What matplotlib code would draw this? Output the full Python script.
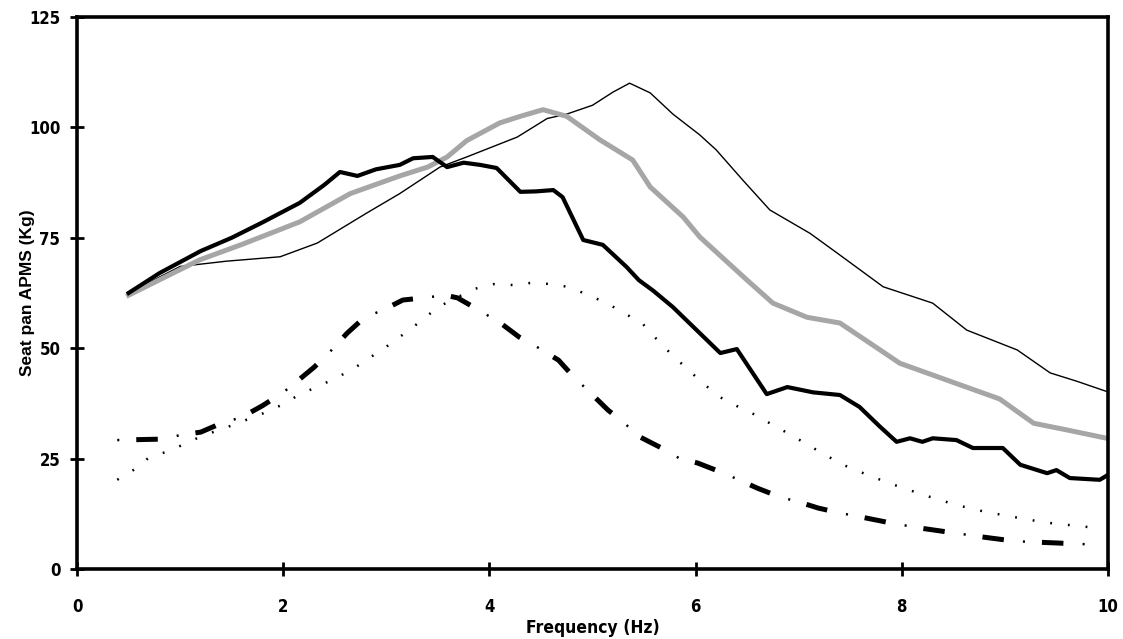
import matplotlib
matplotlib.use("Agg")
import matplotlib.pyplot as plt
from matplotlib import font_manager
from matplotlib.font_manager import FontProperties

plt.rcParams['lines.scale_dashes'] = False

# pick a bold condensed/narrow sans face if one is installed
def pick_narrow_bold():
    best = None
    for f in font_manager.fontManager.ttflist:
        nm = f.name.lower()
        path = f.fname.lower()
        narrowish = ('narrow' in nm or 'condensed' in nm or 'narrow' in path or 'condensed' in path
                     or str(f.stretch) in ('condensed', 'semi-condensed', 'extra-condensed'))
        if not narrowish:
            continue
        w = f.weight if isinstance(f.weight, int) else 700 if 'bold' in str(f.weight) else 400
        boldish = (w >= 600) or ('bold' in path)
        if not boldish or 'italic' in path or 'oblique' in path:
            continue
        if 'liberation' in nm: score = 3
        elif 'dejavu' in nm: score = 2
        else: score = 1
        if best is None or score > best[0]:
            best = (score, f.fname)
    return best[1] if best else None

narrow_path = pick_narrow_bold()
if narrow_path:
    tick_fp = FontProperties(fname=narrow_path, size=12)
    xlab_fp = FontProperties(fname=narrow_path, size=12.5)
else:
    tick_fp = FontProperties(family='Liberation Sans', weight='bold', size=12)
    xlab_fp = FontProperties(family='Liberation Sans', weight='bold', size=12.5)
ylab_fp = FontProperties(family='Liberation Sans', weight='bold', size=12.5)

# ---- data ----
thick_x = [0.5, 0.8, 1.0, 1.2, 1.5, 1.8, 2.16, 2.4, 2.55, 2.72, 2.9, 3.13, 3.26, 3.45, 3.59, 3.75,
           3.91, 4.07, 4.3, 4.45, 4.62, 4.71, 4.91, 5.10, 5.33, 5.45, 5.59, 5.78, 6.01, 6.24, 6.4,
           6.69, 6.89, 7.14, 7.4, 7.59, 7.79, 7.95, 8.08, 8.2, 8.3, 8.53, 8.69, 8.98, 9.15, 9.41,
           9.5, 9.63, 9.92, 10.0]
thick_y = [62.5, 67, 69.5, 72, 75, 78.5, 82.9, 87, 89.9, 89, 90.5, 91.5, 93, 93.3, 91, 92,
           91.5, 90.8, 85.4, 85.5, 85.8, 84.2, 74.5, 73.4, 68.4, 65.4, 63, 59.3, 54.1, 48.9, 49.8,
           39.6, 41.2, 40, 39.4, 36.7, 32.2, 28.8, 29.6, 28.8, 29.6, 29.2, 27.4, 27.4, 23.6, 21.7,
           22.4, 20.6, 20.2, 21.3]

gray_x = [0.5, 1.19, 1.6, 2.16, 2.65, 3.13, 3.4, 3.59, 3.78, 4.1, 4.3, 4.52, 4.75, 5.07, 5.39,
          5.56, 5.88, 6.04, 6.5, 6.75, 7.08, 7.4, 7.79, 7.98, 8.47, 8.95, 9.28, 9.6, 9.99]
gray_y = [62, 70, 73.5, 78.6, 85, 89, 91, 93.3, 97, 101, 102.5, 104, 102.5, 97.2, 92.6,
          86.5, 79.7, 75.2, 65.4, 60.2, 57, 55.7, 49.6, 46.6, 42.5, 38.5, 33, 31.5, 29.6]

thin_x = [0.5, 1.0, 1.45, 1.97, 2.33, 2.81, 3.13, 3.52, 3.78, 4.27, 4.56, 4.75, 5.0, 5.2, 5.36,
          5.56, 5.78, 6.04, 6.2, 6.46, 6.72, 7.11, 7.37, 7.82, 8.3, 8.63, 9.12, 9.44, 9.7, 10.0]
thin_y = [62.5, 68.5, 69.7, 70.7, 73.8, 80.6, 85, 91, 93.3, 97.8, 102, 103, 105, 108, 110,
          107.8, 103, 98.3, 94.9, 88, 81.3, 76, 71.6, 63.9, 60.2, 54.1, 49.6, 44.4, 42.5, 40.1]

dashdot_x = [0.39, 0.8, 1.0, 1.2, 1.4, 1.6, 1.8, 2.0, 2.15, 2.3, 2.47, 2.62, 2.78, 2.99, 3.16,
             3.36, 3.57, 3.69, 3.93, 4.13, 4.29, 4.46, 4.67, 4.81, 4.97, 5.15, 5.31, 5.46, 5.67,
             5.84, 6.02, 6.24, 6.42, 6.6, 6.82, 7.0, 7.19, 7.4, 7.6, 7.9, 8.2, 8.5, 8.8, 9.1,
             9.4, 9.7, 9.9]
dashdot_y = [29.2, 29.4, 30.3, 31, 33, 34.4, 37, 40, 42.8, 45.7, 49.6, 53.4, 56.8, 58.9, 60.9,
             61.4, 62, 61.4, 58.2, 55.3, 52.5, 50.3, 47.3, 43.7, 40.1, 36, 33, 29.9, 27.4,
             25.1, 24, 22, 20.2, 18.3, 16.3, 15.2, 13.8, 12.7, 11.8, 10.4, 9.2, 8.2, 7.2, 6.3,
             6, 5.7, 5.5]

dotted_x = [0.39, 0.56, 0.69, 0.92, 1.2, 1.5, 1.8, 1.99, 2.15, 2.34, 2.51, 2.69, 2.85, 3.01,
            3.18, 3.35, 3.5, 3.68, 3.85, 4.04, 4.23, 4.41, 4.61, 4.78, 4.96, 5.14, 5.3, 5.48,
            5.62, 5.77, 5.92, 6.07, 6.23, 6.4, 6.58, 6.75, 6.93, 7.09, 7.26, 7.43, 7.7, 7.98,
            8.25, 8.53, 8.8, 9.08, 9.4, 9.81]
dotted_y = [20.2, 22.6, 25.1, 27, 30, 32.5, 35.2, 37.2, 39.4, 41.4, 43.2, 45.5, 48, 50.5,
            53.4, 56.4, 59.3, 61.4, 63.4, 64.5, 64.3, 64.8, 64.5, 63.8, 62, 60.2, 58, 55.7,
            52.1, 48.5, 45.3, 42.1, 39, 36.9, 34.9, 32.6, 30.3, 28.1, 25.8, 23.6, 21, 18.6,
            16.5, 14.5, 13, 11.8, 10.5, 9.5]

x_ticks = [0, 2, 4, 6, 8, 10]
y_ticks = [0, 25, 50, 75, 100, 125]

# ---- figure ----
fig = plt.figure(figsize=(11.23, 6.39), dpi=100)
ax = fig.add_axes([0.0686, 0.1095, 0.918, 0.864])

ax.plot(dotted_x, dotted_y, color='black', lw=1.8, linestyle=(0, (1.3, 11.5)),
        dash_capstyle='butt')
ax.plot(dashdot_x, dashdot_y, color='black', lw=3.6, linestyle=(29.3, (15.5, 27.5)),
        dash_capstyle='butt')
ax.plot(dashdot_x, dashdot_y, color='black', lw=1.8, linestyle=(0, (1.5, 41.5)),
        dash_capstyle='butt')
ax.plot(thin_x, thin_y, color='black', lw=1.0)
ax.plot(gray_x, gray_y, color='#a6a6a6', lw=3.6)
ax.plot(thick_x, thick_y, color='black', lw=3.0)

ax.set_xlim(0, 10)
ax.set_ylim(0, 125)
ax.set_xticks(x_ticks)
ax.set_yticks(y_ticks)
ax.set_xticklabels([str(v) for v in x_ticks])
ax.set_yticklabels([str(v) for v in y_ticks])

for s in ax.spines.values():
    s.set_linewidth(2.6)
    s.set_color('black')

ax.tick_params(axis='both', direction='inout', length=10, width=2.0, colors='black')
ax.tick_params(axis='x', pad=16)
ax.tick_params(axis='y', pad=7)
for lab in ax.get_xticklabels() + ax.get_yticklabels():
    lab.set_fontproperties(tick_fp)

ax.set_xlabel('Frequency (Hz)', fontproperties=xlab_fp)
ax.set_ylabel('Seat pan APMS (Kg)', fontproperties=ylab_fp)
ax.xaxis.set_label_coords(0.5, -0.107)
ax.xaxis.label.set_va('center')
ax.yaxis.set_label_coords(-0.048, 0.5)
ax.yaxis.label.set_va('center')

fig.savefig('out.png', dpi=100)
